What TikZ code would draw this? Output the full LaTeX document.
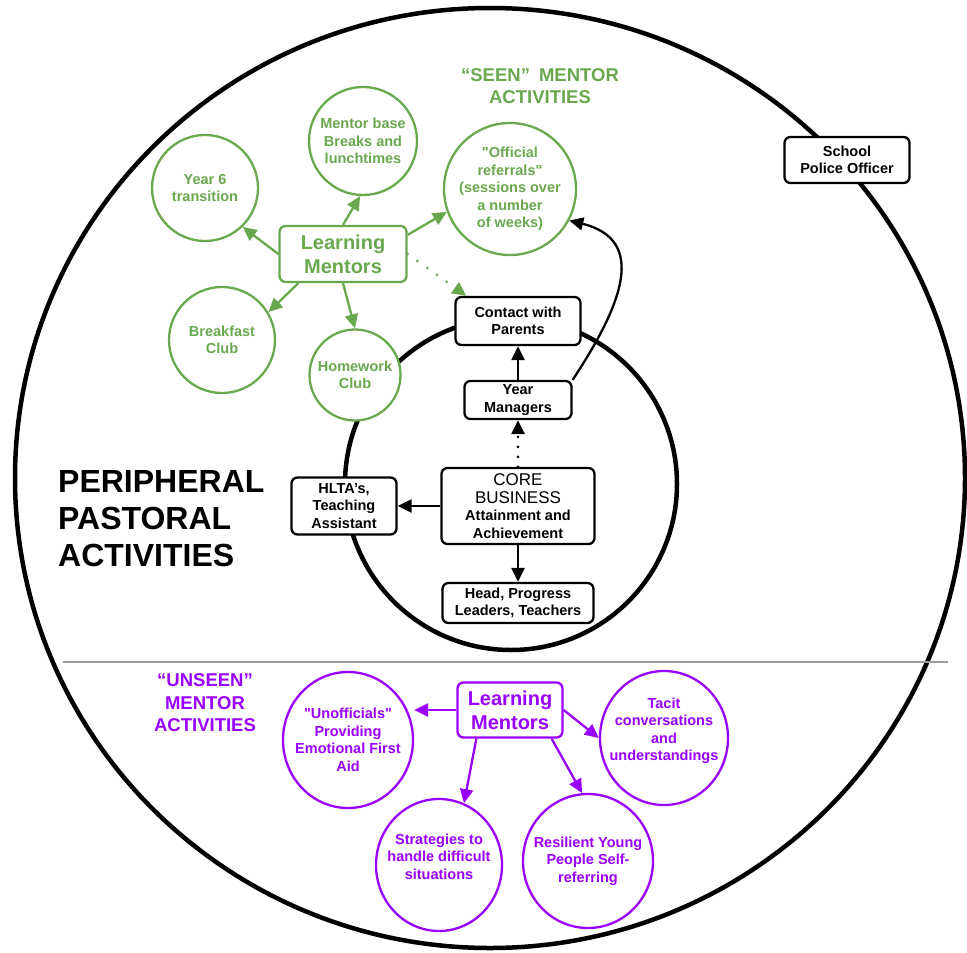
\documentclass[tikz,border=0pt]{standalone}
\usepackage{fontspec}
\setmainfont{Liberation Sans}[Ligatures=TeXOff]
\usetikzlibrary{shapes.geometric,arrows.meta,calc}
\definecolor{mgreen}{HTML}{6AA84F}
\definecolor{mpurple}{HTML}{9900FF}
\definecolor{mgray}{HTML}{9A9A9A}
\newcommand{\fsz}[2]{\fontsize{#1}{#2}\selectfont}
\tikzset{
  gcirc/.style={circle, draw=mgreen, line width=2.3pt, fill=white, text=mgreen,
    font=\bfseries\fsz{14.5}{17.5}, align=center, inner sep=-20pt, minimum size=#1},
  pell/.style 2 args={ellipse, draw=mpurple, line width=2.3pt, fill=white, text=mpurple,
    font=\bfseries\fsz{14.5}{17.5}, align=center, inner sep=-20pt,
    minimum width=#1, minimum height=#2},
  bbox/.style 2 args={rectangle, rounded corners=6pt, draw=black, line width=2.3pt,
    fill=white, font=\bfseries\fsz{14.5}{17.5}, align=center, inner sep=0pt,
    minimum width=#1, minimum height=#2},
  gbox/.style={rectangle, rounded corners=6pt, draw=mgreen, line width=2.3pt,
    fill=white, text=mgreen, font=\bfseries\fsz{20}{24}, align=center, inner sep=0pt,
    minimum width=127pt, minimum height=56pt},
  pbox/.style={rectangle, rounded corners=6pt, draw=mpurple, line width=2.3pt,
    fill=white, text=mpurple, font=\bfseries\fsz{20}{24}, align=center, inner sep=0pt,
    minimum width=105pt, minimum height=55pt},
  ttl/.style={align=center, font=\bfseries\fsz{18.5}{22.5}, inner sep=0pt},
  tip/.style={-{Triangle[length=14pt,width=13pt]}},
  garrow/.style={draw=mgreen, line width=2.3pt, tip},
  parrow/.style={draw=mpurple, line width=2.3pt, tip},
  barrow/.style={draw=black, line width=2.3pt, tip},
}
\begin{document}
\begin{tikzpicture}[x=1pt,y=-1pt]
\useasboundingbox (0,0) rectangle (967,953);
\fill[white] (0,0) rectangle (967,953);
% outer and inner rings
\draw[line width=4.5pt] (490,478) ellipse [x radius=475pt, y radius=470pt];
\draw[mgray, line width=2.4pt] (63,662) -- (948,662);
\draw[line width=4.5pt] (511,484) circle [radius=166pt];

% seen (green)
\node[ttl, text=mgreen] (seen) at (540,86) {“SEEN”\hspace{9pt}MENTOR\\ACTIVITIES};
\node[gcirc=108pt] (mbase) at (363,141) {Mentor base\\Breaks and\\lunchtimes};
\node[gcirc=106pt] (year6) at (205,188) {Year 6\\transition};
\node[gcirc=132pt] (official) at (510,189) {"Official\\referrals"\\(sessions over\\a number\\of weeks)};
\node[gcirc=106pt] (breakfast) at (222,340) {Breakfast\\Club};
\node[gcirc=91pt] (homework) at (355,375) {Homework\\Club};
\node[gbox] (glm) at (343,254) {Learning\\Mentors};

% core (black)
\node[bbox={125pt}{48pt}] (contact) at (518,321) {Contact with\\Parents};
\node[bbox={107pt}{38pt}] (ym) at (518,400) {Year\\Managers};
\node[bbox={153pt}{76pt}] (core) at (518,506)
  {\fsz{17}{20}\mdseries CORE\\\fsz{17}{20}\mdseries BUSINESS\\\fsz{14.5}{17.5}\bfseries Attainment and\\\fsz{14.5}{17.5}\bfseries Achievement};
\node[bbox={105pt}{57pt}] (hlta) at (344,506) {HLTA’s,\\Teaching\\Assistant};
\node[bbox={151pt}{40pt}] (head) at (518,603) {Head, Progress\\Leaders, Teachers};
\node[bbox={125pt}{46pt}] (police) at (847,160) {School\\Police Officer};

\node[anchor=west, align=left, font=\bfseries\fsz{32}{37}, inner sep=0pt] (peri) at (58,519)
  {PERIPHERAL\\PASTORAL\\ACTIVITIES};

% unseen (purple)
\node[ttl, text=mpurple] (unseen) at (205,703) {“UNSEEN”\\MENTOR\\ACTIVITIES};
\node[pbox] (plm) at (510,710) {Learning\\Mentors};
\node[pell={130pt}{136pt}] (unoff) at (348,740) {"Unofficials"\\Providing\\Emotional First\\Aid};
\node[pell={128pt}{134pt}] (tacit) at (664,738) {Tacit\\conversations\\and\\understandings\\\mbox{}};
\node[pell={126pt}{132pt}] (strat) at (439,865) {Strategies to\\handle difficult\\situations\\\mbox{}};
\node[pell={130pt}{134pt}] (resil) at (588,861) {Resilient Young\\People Self-\\referring};

% green connectors
\draw[garrow] (glm.west) -- (year6.-46);
\draw[garrow] (glm.north) -- (mbase.-93);
\draw[garrow] ($(glm.north east)+(0,10)$) -- (official.200);
\draw[garrow] ($(glm.south west)+(20,0)$) -- (breakfast.31);
\draw[garrow] (glm.south) -- (homework.north);
\draw[draw=mgreen, line width=3pt, line cap=round, dash pattern=on 0pt off 12pt, tip]
  (glm.east) -- ($(contact.north west)+(12,0)$);

% black connectors
\draw[barrow] (ym.north) -- (contact.south);
\draw[black, line width=3pt, line cap=round, dash pattern=on 0pt off 10pt, tip]
  (core.north) -- (ym.south);
\draw[barrow] (core.west) -- (hlta.east);
\draw[barrow] (core.south) -- (head.north);
\draw[barrow] (ym.north east) .. controls (622,305) and (648,240) .. (official.-28);

% purple connectors
\draw[parrow] (plm.west) -- (plm.west -| unoff.east);
\draw[parrow] (plm.east) -- (tacit.west);
\draw[parrow] ($(plm.south west)+(20,0)$) -- (strat.68);
\draw[parrow] ($(plm.south east)+(-12,0)$) -- (resil.95);
\end{tikzpicture}
\end{document}
